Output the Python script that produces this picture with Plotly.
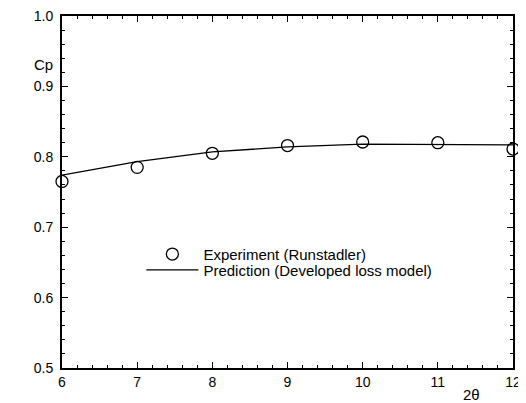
import plotly.graph_objects as go

angle_exp = [6, 7, 8, 9, 10, 11, 12]
cp_exp = [0.765, 0.785, 0.805, 0.816, 0.821, 0.820, 0.811]

angle_pred = [6, 7, 8, 9, 10, 11, 12]
cp_pred = [0.774, 0.793, 0.807, 0.814, 0.818, 0.818, 0.817]

x_ticks = [6, 7, 8, 9, 10, 11, 12]
y_ticks = [0.5, 0.6, 0.7, 0.8, 0.9, 1.0]

font = "Liberation Sans, Arial, sans-serif"

fig = go.Figure()
fig.add_trace(go.Scatter(
    x=angle_exp, y=cp_exp, mode="markers", name="Experiment (Runstadler)",
    marker=dict(symbol="circle-open", size=12, color="black", line=dict(width=1.3, color="black")),
    legend="legend", cliponaxis=False,
))
fig.add_trace(go.Scatter(
    x=angle_pred, y=cp_pred, mode="lines", name="Prediction (Developed loss model)",
    line=dict(color="black", width=1.3),
    legend="legend2",
))

axis_common = dict(
    showgrid=False, zeroline=False, showline=True, linecolor="black", linewidth=2,
    mirror="ticks", ticks="inside", ticklen=6, tickwidth=1, tickcolor="black",
    tickfont=dict(family=font, size=14, color="black"), ticklabeloverflow="allow",
    automargin=False,
)
fig.update_xaxes(range=[6, 12], tickvals=x_ticks, ticktext=[str(v) for v in x_ticks],
                 minor=dict(dtick=0.2, ticks="inside", ticklen=3, tickcolor="black", showgrid=False),
                 **axis_common)
fig.update_yaxes(range=[0.5, 1.0], tickvals=y_ticks, ticktext=[f"{v:.1f}" for v in y_ticks],
                 ticklabelstandoff=4,
                 minor=dict(dtick=0.02, ticks="inside", ticklen=3, tickcolor="black", showgrid=False),
                 **axis_common)

fig.add_annotation(text="Cp", x=-0.04, y=0.862, xref="paper", yref="paper", showarrow=False,
                   xanchor="center", yanchor="middle",
                   font=dict(family=font, size=15, color="black"))
fig.add_annotation(text="2θ", x=11.45, y=0.5, xref="x", yref="y", yshift=-26, showarrow=False,
                   xanchor="center", yanchor="middle",
                   font=dict(family=font, size=15, color="black"))

legend_common = dict(xanchor="left", yanchor="middle", bgcolor="rgba(0,0,0,0)",
                     font=dict(family=font, size=15, color="black"), itemwidth=52)
fig.update_layout(
    width=518, height=395,
    margin=dict(l=54, r=13, t=8, b=35),
    paper_bgcolor="white", plot_bgcolor="white",
    showlegend=True,
    legend=dict(x=0.176, y=0.323, **legend_common),
    legend2=dict(x=0.176, y=0.278, **legend_common),
)

fig.write_html("out.html")
